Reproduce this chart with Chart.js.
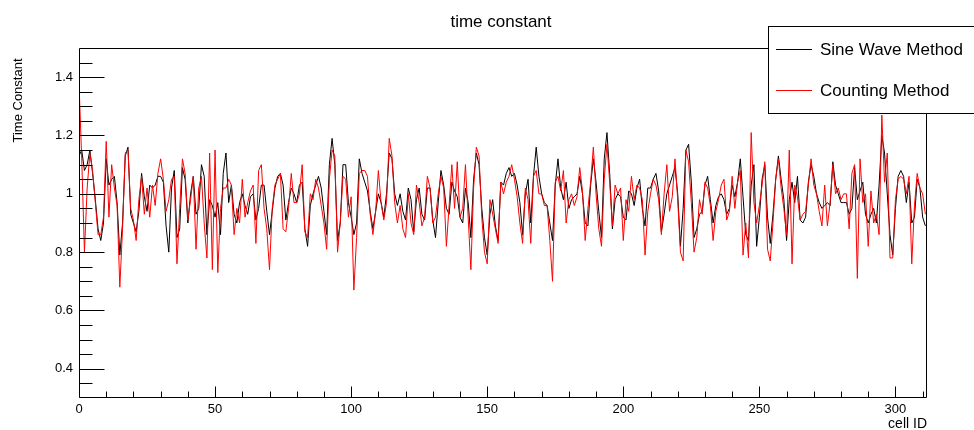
<!DOCTYPE html>
<html>
<head>
<meta charset="utf-8">
<script src="https://cdn.jsdelivr.net/npm/chart.js@4/dist/chart.umd.min.js"></script>
<style>
  html, body { margin: 0; padding: 0; background: #fff; }
  #wrap { width: 974px; height: 430px; position: relative; }
</style>
</head>
<body>
<div id="wrap"><canvas id="c" width="974" height="430"></canvas></div>
<script>
// ---- data ----
const chartTitle = 'time constant';
const xAxisTitle = 'cell ID';
const yAxisTitle = 'Time Constant';
const seriesNames = ['Sine Wave Method', 'Counting Method'];

const sineWave = [
  1.13,1.15,1.08,1.10,1.15,1.07,0.98,0.88,0.84,0.90,1.12,1.03,1.05,1.06,0.97,0.79,0.90,1.13,1.16,0.93,0.90,0.87,0.94,1.07,0.99,0.94,1.03,1.02,1.03,1.06,1.06,1.04,0.89,
  0.80,1.02,1.08,0.85,0.88,1.09,1.05,0.90,1.00,1.06,0.93,0.95,1.10,1.06,0.86,0.98,0.96,0.92,0.97,0.86,1.07,1.14,0.97,1.03,0.93,0.90,0.97,1.00,0.96,0.93,0.99,1.00,
  0.91,0.95,1.03,1.03,0.94,0.86,0.94,1.02,1.06,1.07,1.03,0.91,0.97,1.02,1.00,0.97,1.03,1.04,0.88,0.82,0.96,1.00,1.03,1.06,1.02,0.94,0.86,1.10,1.19,1.10,0.84,0.90,
  1.10,1.10,0.97,0.92,0.86,0.90,1.12,1.07,1.04,1.01,0.94,0.88,0.94,1.00,0.97,0.92,1.00,1.14,1.12,1.00,0.96,1.00,0.94,0.91,1.02,0.98,0.87,0.98,1.02,0.93,0.91,1.02,
  1.02,0.91,0.85,0.97,1.08,1.03,0.95,0.93,1.04,1.01,0.99,0.92,0.90,1.02,0.97,0.85,1.05,1.14,1.10,0.95,0.85,0.79,0.93,0.98,0.89,0.84,1.04,1.03,1.07,1.09,1.06,1.07,
  1.03,0.97,0.86,1.00,1.05,0.90,1.06,1.16,1.06,1.00,0.97,0.96,0.90,0.84,1.03,1.12,1.02,0.98,1.04,0.95,0.98,0.99,1.00,1.06,1.00,0.90,0.89,1.03,1.12,1.04,0.94,0.85,
  1.12,1.21,1.07,0.88,0.98,1.00,0.99,0.92,0.91,1.01,1.00,0.96,1.02,1.05,0.95,0.89,1.02,1.02,1.05,1.07,1.01,0.87,0.93,1.00,1.03,1.06,1.09,1.00,0.82,0.95,1.15,1.17,
  1.04,0.85,0.88,0.93,0.94,1.03,1.06,0.98,0.90,0.96,0.99,1.00,0.98,0.93,0.95,1.03,0.99,1.04,1.12,0.99,0.86,0.84,1.03,1.10,0.82,0.92,1.05,1.10,0.92,0.83,0.93,1.05,
  1.13,1.05,0.98,0.84,0.98,1.04,0.97,1.06,0.91,0.90,0.92,1.04,1.10,1.06,1.00,0.97,0.95,0.96,0.97,0.96,1.11,1.03,1.00,0.97,0.97,0.97,0.93,0.95,1.09,0.98,1.01,1.04,
  0.93,0.90,0.93,0.95,0.90,1.03,1.20,1.14,1.00,0.86,0.79,0.95,1.06,1.08,1.06,0.97,1.04,0.90,0.92,1.05,1.02,0.92,0.89
];

const counting = [
  1.38,1.12,0.80,1.02,1.14,1.08,0.97,0.86,0.86,0.92,1.18,0.92,1.10,1.02,0.96,0.68,0.88,1.14,1.15,0.95,0.91,0.84,0.98,1.06,0.93,1.02,0.92,1.03,0.96,1.07,1.12,1.05,0.94,
  0.98,1.05,1.06,0.76,0.95,1.12,1.07,0.91,0.98,1.06,0.81,1.02,1.06,0.90,0.78,1.14,0.74,1.15,0.73,0.95,1.02,1.02,1.05,1.03,0.86,0.95,0.90,1.05,0.92,0.97,1.01,1.03,
  0.83,1.08,1.10,0.95,0.88,0.74,0.95,1.03,1.05,1.07,0.88,0.87,0.95,1.07,0.97,0.97,1.00,1.10,0.87,0.85,1.00,0.98,1.05,1.02,0.96,0.90,0.81,1.05,1.15,1.13,0.80,0.90,
  1.06,1.05,0.92,0.99,0.67,0.85,1.07,1.08,1.08,1.06,0.93,0.86,0.94,1.08,0.97,0.91,0.97,1.19,1.13,0.97,0.90,0.96,0.88,0.85,1.00,0.90,0.86,1.03,0.97,0.89,0.92,1.06,
  1.02,0.90,0.92,1.00,1.06,1.02,0.82,0.96,1.10,0.95,1.11,0.92,0.95,1.10,0.92,0.74,1.02,1.16,1.13,0.92,0.80,0.76,0.98,0.93,0.88,0.83,1.04,1.00,1.04,1.06,1.10,1.05,
  0.99,0.90,0.83,1.02,0.98,0.83,1.06,1.08,1.00,1.00,0.96,0.96,0.84,0.70,1.04,1.06,1.01,1.08,0.90,0.98,1.00,0.96,0.99,1.09,1.01,0.84,0.95,1.04,1.16,1.00,0.88,0.82,
  1.05,1.17,1.04,0.89,1.03,1.00,1.02,0.84,0.98,0.94,1.06,0.98,1.03,1.02,0.98,0.79,0.94,1.00,1.05,1.03,0.98,0.86,1.00,1.10,0.94,0.99,1.12,0.98,0.80,0.77,1.15,1.11,
  0.97,0.80,0.85,0.98,0.93,1.04,1.02,0.96,0.84,0.94,0.98,1.03,1.05,0.91,0.94,1.06,0.95,1.04,1.08,0.79,0.90,0.78,1.21,0.97,0.90,0.96,1.03,1.11,0.81,0.77,0.90,1.05,
  1.12,1.02,0.95,0.86,1.15,0.76,1.03,0.99,0.91,0.93,0.94,1.03,1.12,1.03,1.00,0.94,0.89,1.03,0.89,0.97,1.10,1.00,1.02,0.98,1.00,1.00,0.88,1.07,1.10,0.71,1.12,0.97,
  1.00,0.82,1.01,0.90,0.93,0.86,1.27,1.04,1.14,0.78,0.78,0.98,1.05,1.06,1.05,1.00,1.06,0.76,0.96,1.07,1.02,1.00,0.93
];

const cellIds = sineWave.map((_, i) => i);
const xRange = [0, 311.6];
const yRange = [0.3, 1.5];
const xMajorStep = 50, xMinorStep = 10;
const yMajorStep = 0.2, yMinorStep = 0.05;

// ---- chart ----
const FONT = "'Liberation Sans', Arial, Helvetica, sans-serif";

const rootStyle = {
  id: 'rootStyle',
  afterDraw(chart) {
    const { ctx, chartArea: a, scales: { x, y } } = chart;
    ctx.save();
    const L = Math.round(a.left) + 0.5, R = Math.round(a.right) - 0.5;
    const T = Math.round(a.top) + 0.5, B = Math.round(a.bottom) - 0.5;
    ctx.strokeStyle = '#000';
    ctx.lineWidth = 1;
    ctx.beginPath();
    // frame
    ctx.rect(L, T, R - L, B - T);
    // x ticks (inside frame, upward)
    const nx = Math.floor(xRange[1] / xMinorStep);
    for (let k = 0; k <= nx; k++) {
      const v = k * xMinorStep;
      const px = Math.round(x.getPixelForValue(v)) + 0.5;
      const len = (k % Math.round(xMajorStep / xMinorStep) === 0) ? 11 : 6;
      ctx.moveTo(px, B); ctx.lineTo(px, B - len);
    }
    // y ticks (inside frame, rightward)
    const k0 = Math.ceil(yRange[0] / yMinorStep + 1e-6), k1 = Math.floor(yRange[1] / yMinorStep - 1e-6);
    for (let k = k0; k <= k1; k++) {
      const v = k * yMinorStep;
      const py = Math.round(y.getPixelForValue(v)) + 0.5;
      const len = (k % Math.round(yMajorStep / yMinorStep) === 0) ? 25 : 13;
      ctx.moveTo(L, py); ctx.lineTo(L + len, py);
    }
    ctx.stroke();

    // title
    ctx.fillStyle = '#000';
    ctx.font = `17px ${FONT}`;
    ctx.textAlign = 'center';
    ctx.textBaseline = 'alphabetic';
    ctx.fillText(chartTitle, 501, 27);

    // x axis title
    ctx.font = `14px ${FONT}`;
    ctx.textAlign = 'right';
    ctx.fillText(xAxisTitle, a.right, 428);

    // y axis title
    ctx.save();
    ctx.translate(18, 100.5);
    ctx.rotate(-Math.PI / 2);
    ctx.textAlign = 'center';
    ctx.textBaseline = 'middle';
    ctx.font = `13px ${FONT}`;
    ctx.fillText(yAxisTitle, 0, 0);
    ctx.restore();

    // legend box (ROOT TLegend style)
    const lx = 768.5, ly = 26.5, lw = 240, lh = 87;
    ctx.fillStyle = '#fff';
    ctx.fillRect(lx, ly, lw, lh);
    ctx.strokeStyle = '#000';
    ctx.strokeRect(lx, ly, lw, lh);
    const rows = [
      { name: seriesNames[0], color: '#000000', y: 49.5 },
      { name: seriesNames[1], color: '#ff0000', y: 90.5 }
    ];
    ctx.font = `17px ${FONT}`;
    ctx.textAlign = 'left';
    ctx.textBaseline = 'middle';
    rows.forEach(r => {
      ctx.strokeStyle = r.color;
      ctx.beginPath();
      ctx.moveTo(776, r.y); ctx.lineTo(812, r.y);
      ctx.stroke();
      ctx.fillStyle = '#000';
      ctx.fillText(r.name, 820, r.y + 1);
    });
    ctx.restore();
  }
};

new Chart(document.getElementById('c'), {
  type: 'line',
  data: {
    datasets: [
      {
        label: seriesNames[1],
        data: cellIds.map((id, i) => ({ x: id, y: counting[i] })),
        borderColor: '#ff0000',
        borderWidth: 1,
        pointRadius: 0,
        tension: 0,
        order: 0
      },
      {
        label: seriesNames[0],
        data: cellIds.map((id, i) => ({ x: id, y: sineWave[i] })),
        borderColor: '#000000',
        borderWidth: 1,
        pointRadius: 0,
        tension: 0,
        order: 1
      }
    ]
  },
  options: {
    responsive: false,
    devicePixelRatio: 1,
    animation: false,
    layout: { padding: { top: 48, right: 47, left: 0, bottom: 0 } },
    plugins: {
      legend: { display: false },
      title: { display: false },
      tooltip: { enabled: false }
    },
    scales: {
      x: {
        type: 'linear',
        min: xRange[0],
        max: xRange[1],
        afterFit(s) { s.height = 32; },
        grid: { display: false, drawTicks: false },
        border: { display: false },
        ticks: {
          stepSize: xMinorStep,
          autoSkip: false,
          maxRotation: 0,
          padding: 4,
          color: '#000',
          font: { family: FONT, size: 13 },
          callback: (v) => (Math.abs(v % xMajorStep) < 1e-6 ? String(v) : '')
        }
      },
      y: {
        type: 'linear',
        min: yRange[0],
        max: yRange[1],
        afterFit(s) { s.width = 79; },
        grid: { display: false, drawTicks: false },
        border: { display: false },
        ticks: {
          stepSize: yMinorStep,
          autoSkip: false,
          padding: 6,
          color: '#000',
          font: { family: FONT, size: 13 },
          callback: (v) => {
            const k = Math.round(v / yMinorStep);
            if (Math.abs(v - k * yMinorStep) > 1e-6) return '';
            return (k % Math.round(yMajorStep / yMinorStep) === 0) ? String(+(k * yMinorStep).toFixed(1)) : '';
          }
        }
      }
    }
  },
  plugins: [rootStyle]
});
</script>
</body>
</html>
